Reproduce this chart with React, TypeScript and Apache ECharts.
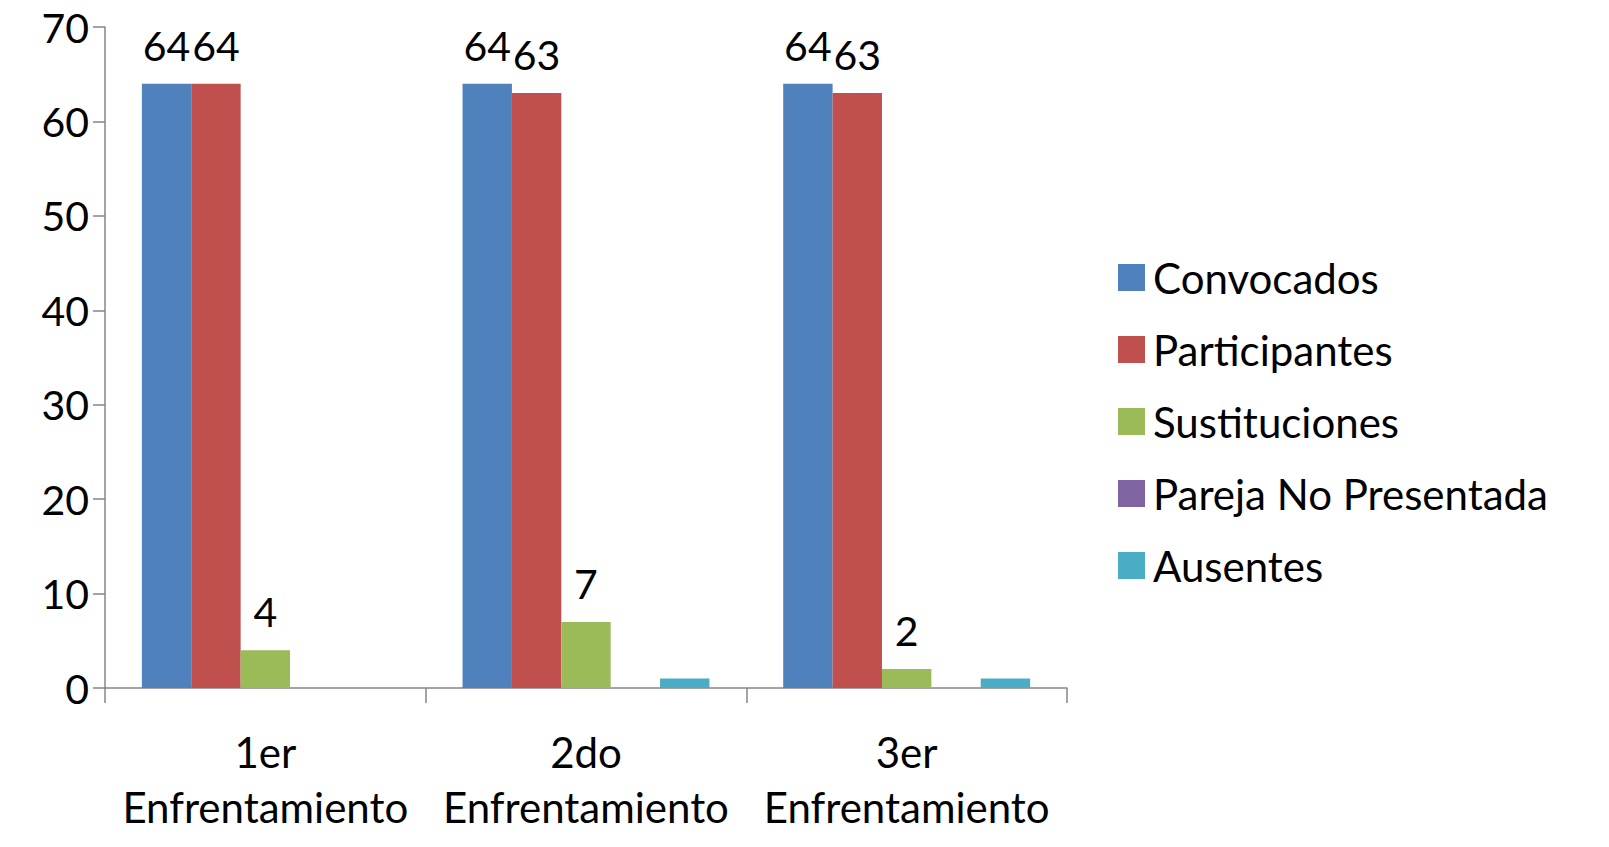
import React, { useEffect, useRef } from "react";
import * as echarts from "echarts";

const categories = ["1er\nEnfrentamiento", "2do\nEnfrentamiento", "3er\nEnfrentamiento"];
const seriesNames = ["Convocados", "Participantes", "Sustituciones", "Pareja No Presentada", "Ausentes"];
const convocados = [64, 64, 64];
const participantes = [64, 63, 63];
const sustituciones = [4, 7, 2];
const parejaNoPresentada = [0, 0, 0];
const ausentes = [0, 1, 1];
const colors = ["#4F81BD", "#C0504D", "#9BBB59", "#8064A2", "#4BACC6"];
const showLabels = [true, true, true, false, false];

const FONT = "Lato, 'Open Sans', sans-serif";

export default function App() {
  const ref = useRef<HTMLDivElement>(null);
  useEffect(() => {
    if (!ref.current) return;
    const chart = echarts.init(ref.current, undefined, { renderer: "svg" });
    const data = [convocados, participantes, sustituciones, parejaNoPresentada, ausentes];
    chart.setOption({
      animation: false,
      textStyle: { fontFamily: FONT },
      grid: { left: 105, right: 542, top: 27, bottom: 159, containLabel: false },
      legend: {
        orient: "vertical",
        left: 1113,
        top: 250,
        itemWidth: 27,
        itemHeight: 27,
        itemGap: 27,
        icon: "rect",
        textStyle: { fontSize: 42, lineHeight: 45, color: "#000", fontFamily: FONT, padding: [0, 0, 0, 3] },
        data: seriesNames,
      },
      xAxis: {
        type: "category",
        data: categories,
        axisLine: { lineStyle: { color: "#868686", width: 1.5 } },
        axisTick: { show: true, length: 15, lineStyle: { color: "#868686", width: 1.5 } },
        axisLabel: { interval: 0, fontSize: 42, color: "#000", lineHeight: 55, margin: 36, fontFamily: FONT },
      },
      yAxis: {
        type: "value",
        min: 0,
        max: 70,
        interval: 10,
        splitLine: { show: false },
        axisLine: { show: true, lineStyle: { color: "#868686", width: 1.5 } },
        axisTick: { show: true, length: 12, lineStyle: { color: "#868686", width: 1.5 } },
        axisLabel: { fontSize: 41, color: "#000", margin: 16, fontFamily: FONT },
      },
      series: seriesNames.map((name, i) => ({
        name,
        type: "bar",
        data: data[i],
        barGap: "0%",
        barCategoryGap: "23%",
        itemStyle: { color: colors[i] },
        label: {
          show: showLabels[i],
          position: "top",
          distance: 18,
          fontSize: 41,
          color: "#000",
          fontFamily: FONT,
        },
      })),
    });
    return () => chart.dispose();
  }, []);
  return (
    <div
      ref={ref}
      style={{ position: "fixed", left: 0, top: 0, width: 1609, height: 847, background: "#fff" }}
    />
  );
}
